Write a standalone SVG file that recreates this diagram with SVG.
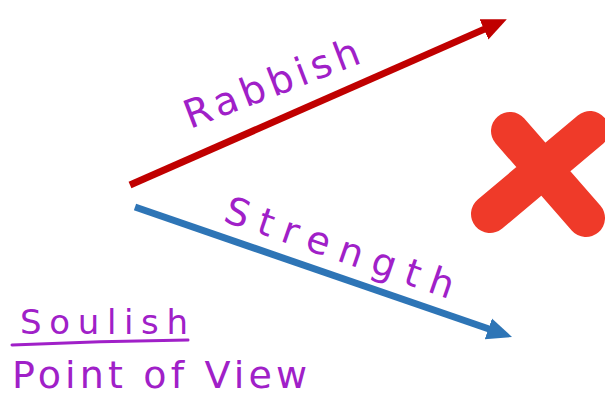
<svg xmlns="http://www.w3.org/2000/svg" width="605" height="400" viewBox="0 0 605 400">
  <style>
    .hand { font-family: "DejaVu Sans", "Liberation Sans", sans-serif; fill: #a020c8; font-weight: normal; }
    .arrow { fill: none; stroke-width: 7; stroke-linecap: butt; }
  </style>
  <defs>
    <marker id="headRed" markerUnits="userSpaceOnUse" markerWidth="30" markerHeight="30" refX="3" refY="0" viewBox="0 -15 30 30" orient="auto">
      <path d="M0,-11 L25,0 L0,11 z" fill="#c00000"/>
    </marker>
    <marker id="headBlue" markerUnits="userSpaceOnUse" markerWidth="30" markerHeight="30" refX="3" refY="0" viewBox="0 -15 30 30" orient="auto">
      <path d="M0,-11 L25,0 L0,11 z" fill="#2e75b6"/>
    </marker>
  </defs>
  <rect width="605" height="400" fill="#ffffff"/>
  <g id="connectors">
    <line class="arrow" x1="130" y1="185" x2="486.7" y2="28.1" stroke="#c00000" marker-end="url(#headRed)"/>
    <line class="arrow" x1="135" y1="207" x2="491.2" y2="329.8" stroke="#2e75b6" marker-end="url(#headBlue)"/>
  </g>
  <g id="rabbish">
    <text class="hand" font-size="39" transform="translate(190,129) rotate(-21)" textLength="185" lengthAdjust="spacing">Rabbish</text>
  </g>
  <g id="strength">
    <text class="hand" font-size="38" transform="translate(222,221) rotate(19)" textLength="240" lengthAdjust="spacing">Strength</text>
  </g>
  <g id="cross">
    <path d="M510,131 L586,218 M590,130 L490,214" stroke="#ef3a29" stroke-width="38" stroke-linecap="round" fill="none"/>
  </g>
  <g id="soulish">
    <text class="hand" font-size="34" x="20" y="334" textLength="168" lengthAdjust="spacing">Soulish</text>
    <path d="M12,345 Q100,341 188,340" stroke="#a020c8" stroke-width="3" fill="none" stroke-linecap="round"/>
  </g>
  <g id="pov">
    <text class="hand" font-size="38" x="12" y="388" textLength="295" lengthAdjust="spacing">Point of View</text>
  </g>
</svg>
